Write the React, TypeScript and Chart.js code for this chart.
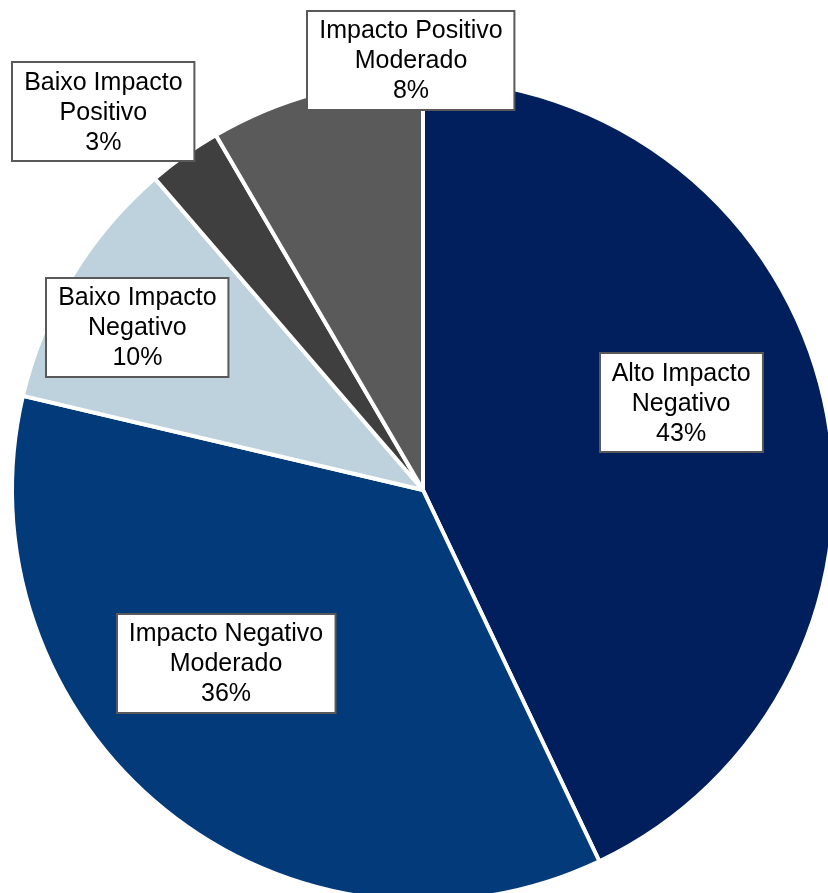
import React, { useEffect, useRef } from "react";
import { Chart, registerables } from "chart.js";

Chart.register(...registerables);

const categories: string[][] = [
  ["Alto Impacto", "Negativo"],
  ["Impacto Negativo", "Moderado"],
  ["Baixo Impacto", "Negativo"],
  ["Baixo Impacto", "Positivo"],
  ["Impacto Positivo", "Moderado"],
];
const values: number[] = [42.9, 35.7, 10.0, 2.9, 8.4];
const colors: string[] = ["#001F5C", "#023A7A", "#BDD2DC", "#3F3F3F", "#5A5A5A"];

// label anchor: angle (deg, clockwise from 12 o'clock) and radius fraction
const labelAngles: number[] = [71.3, 228.7, 299.7, 319.8, 358.4];
const labelRadii: number[] = [0.663, 0.638, 0.8, 1.205, 1.046];

const labelPlugin = {
  id: "boxLabels",
  afterDatasetsDraw(chart: any) {
    const ctx = chart.ctx as CanvasRenderingContext2D;
    const meta = chart.getDatasetMeta(0);
    const data = chart.data.datasets[0].data as number[];
    const total = data.reduce((a, b) => a + b, 0);
    const fontSize = 25;
    const lineH = 30;
    ctx.save();
    ctx.font = `${fontSize}px "Liberation Sans", Arial, sans-serif`;
    ctx.textAlign = "center";
    ctx.textBaseline = "middle";
    meta.data.forEach((arc: any, i: number) => {
      const R = arc.outerRadius;
      const th = (labelAngles[i] * Math.PI) / 180;
      const cx = arc.x + Math.sin(th) * R * labelRadii[i];
      const cy = arc.y - Math.cos(th) * R * labelRadii[i];
      const lines = [...(chart.data.labels[i] as string[]), `${Math.round((data[i] / total) * 100)}%`];
      const w = Math.max(...lines.map((l) => ctx.measureText(l).width)) + 24;
      const h = lines.length * lineH + 9;
      const x0 = Math.round(cx - w / 2);
      const y0 = Math.round(cy - h / 2);
      ctx.fillStyle = "#FFFFFF";
      ctx.fillRect(x0, y0, w, h);
      ctx.strokeStyle = "#595959";
      ctx.lineWidth = 2;
      ctx.strokeRect(x0, y0, w, h);
      ctx.fillStyle = "#000000";
      lines.forEach((l, k) => {
        ctx.fillText(l, cx, cy + (k - (lines.length - 1) / 2) * lineH + 1);
      });
    });
    ctx.restore();
  },
};

export default function App() {
  const ref = useRef<HTMLCanvasElement>(null);
  useEffect(() => {
    document.body.style.margin = "0";
    const chart = new Chart(ref.current!, {
      type: "pie",
      data: {
        labels: categories as any,
        datasets: [
          {
            data: values,
            backgroundColor: colors,
            borderColor: "#FFFFFF",
            borderWidth: 4,
            hoverOffset: 0,
          },
        ],
      },
      options: {
        responsive: false,
        animation: false,
        radius: 411,
        layout: { padding: 0 },
        plugins: {
          legend: { display: false },
          tooltip: { enabled: false },
        },
      } as any,
      plugins: [labelPlugin],
    });
    return () => chart.destroy();
  }, []);
  return (
    <div
      style={{
        position: "fixed",
        left: 0,
        top: 0,
        width: 828,
        height: 893,
        overflow: "hidden",
        background: "#FFFFFF",
      }}
    >
      <canvas
        ref={ref}
        width={846}
        height={980}
        style={{ position: "absolute", left: 0, top: 0, width: 846, height: 980 }}
      />
    </div>
  );
}
